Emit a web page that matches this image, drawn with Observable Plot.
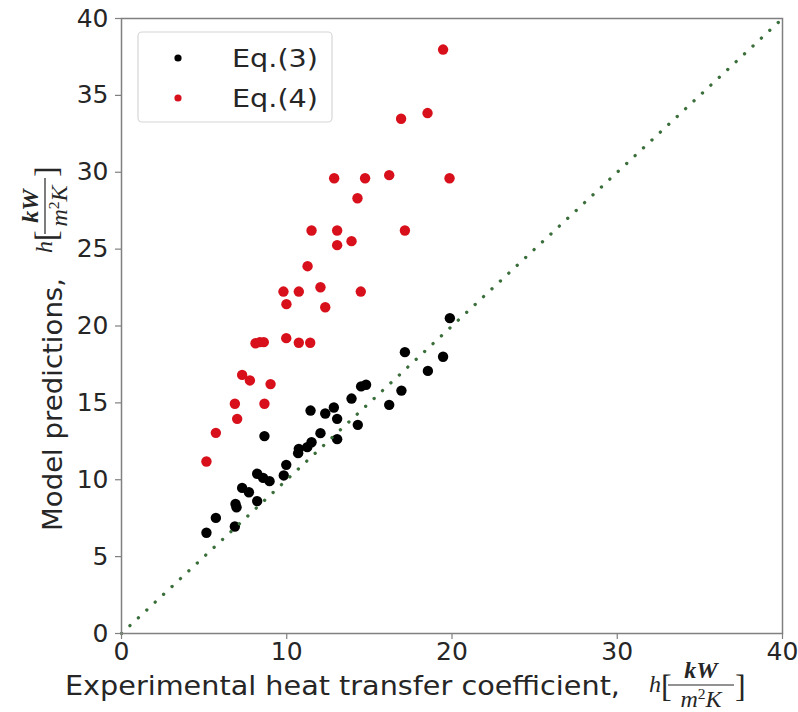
<!DOCTYPE html>
<html>
<head>
<meta charset="utf-8">
<script src="https://cdn.jsdelivr.net/npm/d3@7"></script>
<script src="https://cdn.jsdelivr.net/npm/@observablehq/plot@0.6"></script>
<style>
  html, body { margin: 0; padding: 0; background: #fff; }
  #chart { width: 798px; height: 712px; }
</style>
</head>
<body>
<div id="chart"></div>
<script>
// ---- data ----
const xTicks = [0, 10, 20, 30, 40];
const yTicks = [0, 5, 10, 15, 20, 25, 30, 35, 40];
const seriesNames = ["Eq.(3)", "Eq.(4)"];

const eq3X = [5.14, 5.71, 6.86, 6.90, 6.96, 7.30, 7.71, 8.21, 8.21, 8.57, 8.96, 8.65, 9.82, 9.97, 10.69, 10.73, 11.24, 11.50, 11.44, 12.04, 12.33, 12.85, 13.05, 13.05, 13.92, 14.30, 14.50, 14.80, 16.20, 16.94, 17.15, 18.54, 19.46, 19.87];
const eq3Y = [6.55, 7.52, 6.96, 8.43, 8.21, 9.47, 9.19, 8.61, 10.39, 10.12, 9.91, 12.84, 10.28, 10.97, 11.73, 12.01, 12.12, 12.44, 14.50, 13.03, 14.31, 14.70, 13.96, 12.64, 15.28, 13.57, 16.07, 16.18, 14.87, 15.80, 18.30, 17.08, 18.00, 20.51];

const eq4X = [19.46, 16.92, 18.52, 12.87, 14.74, 16.20, 19.85, 14.28, 11.50, 13.05, 17.15, 13.05, 13.92, 11.26, 9.80, 10.73, 12.04, 14.48, 9.98, 12.33, 8.11, 8.37, 8.61, 9.97, 10.73, 11.42, 7.30, 7.77, 9.02, 6.86, 8.65, 7.00, 5.71, 5.14];
const eq4Y = [37.98, 33.48, 33.85, 29.61, 29.61, 29.81, 29.61, 28.31, 26.21, 26.21, 26.21, 25.26, 25.52, 23.89, 22.24, 22.24, 22.52, 22.24, 21.42, 21.22, 18.88, 18.95, 18.95, 19.21, 18.91, 18.91, 16.82, 16.46, 16.22, 14.94, 14.94, 13.96, 13.05, 11.19];

const diagX = [0, 40];
const diagY = [0, 40];

// tables built from the arrays
const eq3 = eq3X.map((x, i) => ({x, y: eq3Y[i]}));
const eq4 = eq4X.map((x, i) => ({x, y: eq4Y[i]}));
const diag = diagX.map((x, i) => ({x, y: diagY[i]}));

const BLACK = "#000000";
const RED = "#d8101c";
const GREEN = "#3a6e3a";
const GRAY = "#808080";
const TEXT = "#262626";

const svg = Plot.plot({
  width: 798,
  height: 712,
  marginLeft: 121,
  marginRight: 16,
  marginTop: 18,
  marginBottom: 79,
  x: {domain: [0, 40], label: null},
  y: {domain: [0, 40], label: null},
  style: {fontFamily: "DejaVu Sans", background: "white", overflow: "visible"},
  marks: [
    Plot.dot(eq3, {x: "x", y: "y", r: 5.2, fill: BLACK}),
    Plot.dot(eq4, {x: "x", y: "y", r: 5.2, fill: RED}),
    Plot.line(diag, {x: "x", y: "y", stroke: GREEN, strokeWidth: 3.3, strokeDasharray: "0.1,11.4", strokeLinecap: "round"}),
    Plot.frame({stroke: GRAY, strokeWidth: 1.5}),
    Plot.axisX({ticks: xTicks, tickSize: 6, stroke: GRAY, strokeWidth: 1.2, text: null, label: null}),
    Plot.axisX({ticks: xTicks, tickSize: 0, tickPadding: 9, fontSize: 25, fill: TEXT, label: null}),
    Plot.axisY({ticks: yTicks, tickSize: 6, stroke: GRAY, strokeWidth: 1.2, text: null, label: null}),
    Plot.axisY({ticks: yTicks, tickSize: 0, tickPadding: 13, fontSize: 25, fill: TEXT, label: null})
  ]
});
document.getElementById("chart").appendChild(svg);

const root = d3.select(svg);
const SERIF = "'Liberation Serif', 'DejaVu Serif', serif";

// math label h[kW / m^2 K] drawn in a local frame, baseline of h at (0,0)
function mathLabel(g, F, w) {
  g.attr("text-anchor", "start");
  const c = 19 + w / 2;
  g.append("text").attr("x", 0).attr("y", 0)
    .attr("font-family", SERIF).attr("font-style", "italic").attr("font-size", F).attr("fill", TEXT).text("h");
  g.append("text").attr("x", 12).attr("y", 5)
    .attr("font-family", SERIF).attr("font-size", 32).attr("fill", TEXT).text("[");
  g.append("text").attr("x", c).attr("y", -14).attr("text-anchor", "middle")
    .attr("font-family", SERIF).attr("font-style", "italic").attr("font-weight", "bold").attr("font-size", F).attr("fill", TEXT).text("kW");
  g.append("line").attr("x1", 19).attr("x2", 19 + w).attr("y1", -7).attr("y2", -7)
    .attr("stroke", TEXT).attr("stroke-width", 1.2);
  const den = g.append("text").attr("x", c).attr("y", 15).attr("text-anchor", "middle")
    .attr("font-family", SERIF).attr("font-style", "italic").attr("font-size", F).attr("fill", TEXT);
  den.append("tspan").text("m");
  den.append("tspan").attr("font-size", F * 0.65).attr("font-style", "normal").attr("dy", -8).text("2");
  den.append("tspan").attr("dy", 8).text("K");
  g.append("text").attr("x", 20 + w).attr("y", 5)
    .attr("font-family", SERIF).attr("font-size", 32).attr("fill", TEXT).text("]");
}

// x axis label
root.append("text").attr("x", 65).attr("y", 695).attr("text-anchor", "start")
  .attr("font-family", "DejaVu Sans").attr("font-size", 27).attr("fill", TEXT)
  .attr("textLength", 555).attr("lengthAdjust", "spacingAndGlyphs")
  .text("Experimental heat transfer coefficient,");
mathLabel(root.append("g").attr("transform", "translate(649,692)"), 24, 66);

// y axis label (rotated)
root.append("text").attr("transform", "translate(62,531) rotate(-90)").attr("text-anchor", "start")
  .attr("font-family", "DejaVu Sans").attr("font-size", 27).attr("fill", TEXT)
  .attr("textLength", 253).attr("lengthAdjust", "spacingAndGlyphs")
  .text("Model predictions,");
mathLabel(root.append("g").attr("transform", "translate(52,253) rotate(-90)"), 24, 56);

// legend
const leg = root.append("g").attr("text-anchor", "start");
leg.append("rect").attr("x", 138).attr("y", 32).attr("width", 194).attr("height", 90).attr("rx", 4)
  .attr("fill", "white").attr("fill-opacity", 0.8).attr("stroke", "#d6d6d6").attr("stroke-width", 1.2);
const legColors = [BLACK, RED];
seriesNames.forEach((name, i) => {
  const cy = 58 + i * 40;
  leg.append("circle").attr("cx", 178).attr("cy", cy).attr("r", 3.6).attr("fill", legColors[i]);
  leg.append("text").attr("x", 232).attr("y", cy + 9)
    .attr("font-family", "DejaVu Sans").attr("font-size", 25).attr("fill", TEXT)
    .attr("textLength", 86).attr("lengthAdjust", "spacingAndGlyphs").text(name);
});
</script>
</body>
</html>
